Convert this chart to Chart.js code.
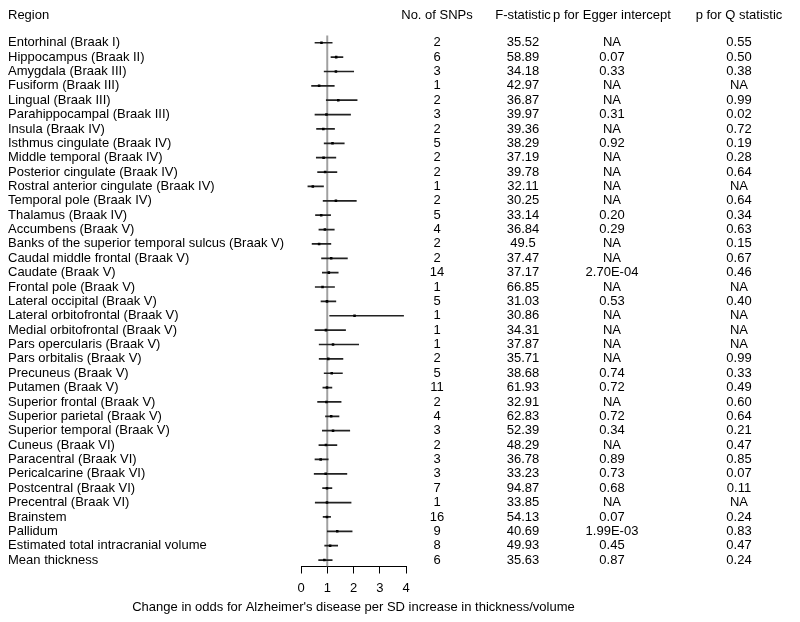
<!DOCTYPE html>
<html lang="en">
<head>
  <meta charset="UTF-8" />
  <title>Forest plot</title>
  <style>
    body { margin: 0; background: #fff; }
    canvas { display: block; }
  </style>
</head>
<body>
  <canvas id="chartCanvas" width="800" height="622"></canvas>
  <script src="https://cdn.jsdelivr.net/npm/chart.js"></script>
  <script>
    const regions = [
      'Entorhinal (Braak I)', 'Hippocampus (Braak II)', 'Amygdala (Braak III)', 'Fusiform (Braak III)',
      'Lingual (Braak III)', 'Parahippocampal (Braak III)', 'Insula (Braak IV)', 'Isthmus cingulate (Braak IV)',
      'Middle temporal (Braak IV)', 'Posterior cingulate (Braak IV)', 'Rostral anterior cingulate (Braak IV)',
      'Temporal pole (Braak IV)', 'Thalamus (Braak IV)', 'Accumbens (Braak V)',
      'Banks of the superior temporal sulcus (Braak V)', 'Caudal middle frontal (Braak V)', 'Caudate (Braak V)',
      'Frontal pole (Braak V)', 'Lateral occipital (Braak V)', 'Lateral orbitofrontal (Braak V)',
      'Medial orbitofrontal (Braak V)', 'Pars opercularis (Braak V)', 'Pars orbitalis (Braak V)',
      'Precuneus (Braak V)', 'Putamen (Braak V)', 'Superior frontal (Braak V)', 'Superior parietal (Braak V)',
      'Superior temporal (Braak V)', 'Cuneus (Braak VI)', 'Paracentral (Braak VI)', 'Pericalcarine (Braak VI)',
      'Postcentral (Braak VI)', 'Precentral (Braak VI)', 'Brainstem', 'Pallidum',
      'Estimated total intracranial volume', 'Mean thickness'
    ];
    const nSnps = [2, 6, 3, 1, 2, 3, 2, 5, 2, 2, 1, 2, 5, 4, 2, 2, 14, 1, 5, 1, 1, 1, 2, 5, 11, 2, 4, 3, 2, 3, 3, 7, 1, 16, 9, 8, 6];
    const fStat = ['35.52', '58.89', '34.18', '42.97', '36.87', '39.97', '39.36', '38.29', '37.19', '39.78', '32.11',
      '30.25', '33.14', '36.84', '49.5', '37.47', '37.17', '66.85', '31.03', '30.86', '34.31', '37.87', '35.71',
      '38.68', '61.93', '32.91', '62.83', '52.39', '48.29', '36.78', '33.23', '94.87', '33.85', '54.13', '40.69',
      '49.93', '35.63'];
    const pEgger = ['NA', '0.07', '0.33', 'NA', 'NA', '0.31', 'NA', '0.92', 'NA', 'NA', 'NA', 'NA', '0.20', '0.29',
      'NA', 'NA', '2.70E-04', 'NA', '0.53', 'NA', 'NA', 'NA', 'NA', '0.74', '0.72', 'NA', '0.72', '0.34', 'NA',
      '0.89', '0.73', '0.68', 'NA', '0.07', '1.99E-03', '0.45', '0.87'];
    const pQ = ['0.55', '0.50', '0.38', 'NA', '0.99', '0.02', '0.72', '0.19', '0.28', '0.64', 'NA', '0.64', '0.34',
      '0.63', '0.15', '0.67', '0.46', 'NA', '0.40', 'NA', 'NA', 'NA', '0.99', '0.33', '0.49', '0.60', '0.64', '0.21',
      '0.47', '0.85', '0.07', '0.11', 'NA', '0.24', '0.83', '0.47', '0.24'];
    // odds ratio and 95% CI
    const orEst = [0.78, 1.34, 1.33, 0.69, 1.42, 0.97, 0.85, 1.20, 0.86, 0.92, 0.45, 1.33, 0.77, 0.91, 0.69, 1.15,
      1.06, 0.82, 0.99, 2.04, 0.95, 1.22, 1.04, 1.17, 0.99, 0.97, 1.15, 1.22, 0.95, 0.75, 0.94, 0.99, 0.99, 0.99,
      1.38, 1.11, 0.89];
    const ciLow = [0.52, 1.13, 0.87, 0.39, 0.95, 0.52, 0.58, 0.87, 0.57, 0.62, 0.25, 0.83, 0.54, 0.67, 0.41, 0.77,
      0.80, 0.53, 0.75, 1.08, 0.52, 0.68, 0.68, 0.87, 0.82, 0.62, 0.92, 0.80, 0.67, 0.52, 0.49, 0.81, 0.53, 0.83,
      0.99, 0.89, 0.66];
    const ciHigh = [1.20, 1.61, 2.02, 1.28, 2.15, 1.90, 1.29, 1.66, 1.34, 1.38, 0.87, 2.12, 1.14, 1.28, 1.15, 1.78,
      1.43, 1.29, 1.34, 3.92, 1.71, 2.21, 1.61, 1.59, 1.19, 1.54, 1.46, 1.87, 1.38, 1.05, 1.76, 1.19, 1.92, 1.14,
      1.96, 1.41, 1.20];
    const xTicks = [0, 1, 2, 3, 4];
    const headers = ['Region', 'No. of SNPs', 'F-statistic', 'p for Egger intercept', 'p for Q statistic'];
    const xTitle = "Change in odds for Alzheimer's disease per SD increase in thickness/volume";

    const FAMILY = '"Liberation Sans", Arial, sans-serif';
    const FONT = '13px ' + FAMILY;
    const colX = [437, 523, 612, 739];
    const headerRow = -1.88;

    const ciSets = regions.map((r, i) => ({
      type: 'line',
      data: [{ x: ciLow[i], y: i }, { x: ciHigh[i], y: i }],
      borderColor: '#222',
      borderWidth: 1.7,
      pointRadius: 0,
      order: 2
    }));

    const tablePlugin = {
      id: 'table',
      afterDraw(chart) {
        const ctx = chart.ctx;
        const y = chart.scales.y;
        const x = chart.scales.x;
        ctx.save();
        ctx.font = FONT;
        ctx.fillStyle = '#000';
        ctx.textBaseline = 'middle';
        const hy = y.getPixelForValue(headerRow);
        ctx.textAlign = 'left';
        ctx.fillText(headers[0], 8, hy);
        ctx.textAlign = 'center';
        for (let c = 1; c < headers.length; c++) ctx.fillText(headers[c], colX[c - 1], hy);
        regions.forEach((r, i) => {
          const py = y.getPixelForValue(i);
          ctx.textAlign = 'left';
          ctx.fillText(r, 8, py);
          ctx.textAlign = 'center';
          ctx.fillText(String(nSnps[i]), colX[0], py);
          ctx.fillText(fStat[i], colX[1], py);
          ctx.fillText(pEgger[i], colX[2], py);
          ctx.fillText(pQ[i], colX[3], py);
        });
        // axis title, wider than the plot area so drawn here
        ctx.textAlign = 'center';
        ctx.fillText(xTitle, (x.left + x.right) / 2, 607);
        ctx.restore();
      }
    };

    new Chart(document.getElementById('chartCanvas'), {
      type: 'scatter',
      data: {
        datasets: [
          {
            type: 'line',
            data: [{ x: 1, y: -0.5 }, { x: 1, y: 36.45 }],
            borderColor: '#a0a0a0',
            borderWidth: 2,
            pointRadius: 0,
            order: 3
          },
          ...ciSets,
          {
            data: orEst.map((v, i) => ({ x: v, y: i })),
            pointStyle: 'rect',
            pointRadius: 1.8,
            backgroundColor: '#000',
            borderColor: '#000',
            borderWidth: 0,
            order: 1
          }
        ]
      },
      options: {
        responsive: false,
        animation: false,
        layout: { padding: { left: 301, right: 394, top: 14, bottom: 0 } },
        plugins: { legend: { display: false }, tooltip: { enabled: false } },
        scales: {
          x: {
            type: 'linear',
            min: 0,
            max: 4,
            afterBuildTicks: (s) => { s.ticks = xTicks.map(v => ({ value: v })); },
            afterFit: (s) => { s.height = 55.5; },
            grid: { drawOnChartArea: false, drawTicks: true, tickLength: 7, tickColor: '#000', lineWidth: 1 },
            border: { display: true, color: '#000', width: 1 },
            ticks: { color: '#000', font: { family: FAMILY, size: 13 }, padding: 7, maxRotation: 0 },
            title: { display: false }
          },
          y: {
            type: 'linear',
            display: false,
            reverse: true,
            min: -2,
            max: 36.45
          }
        }
      },
      plugins: [tablePlugin]
    });
  </script>
</body>
</html>
